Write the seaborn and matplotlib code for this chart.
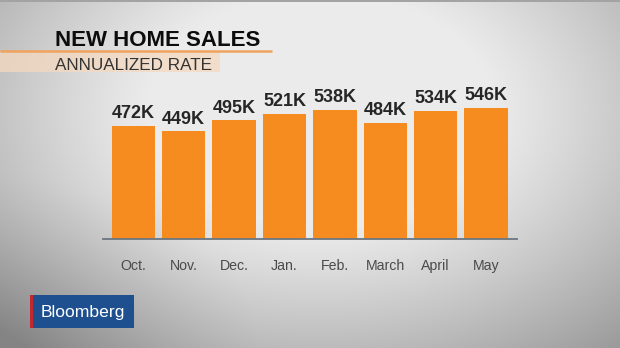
import numpy as np
import pandas as pd
import matplotlib
matplotlib.use("Agg")
import matplotlib.pyplot as plt
from matplotlib.patches import Rectangle
import seaborn as sns

# New home sales, annualized rate (thousands)
months = ["Oct.", "Nov.", "Dec.", "Jan.", "Feb.", "March", "April", "May"]
sales = [472, 449, 495, 521, 538, 484, 534, 546]

title = "NEW HOME SALES"
subtitle = "ANNUALIZED RATE"
brand = "Bloomberg"

plt.rcParams["font.family"] = ["Liberation Sans", "DejaVu Sans"]

W, H = 620, 348
fig = plt.figure(figsize=(W / 100, H / 100), dpi=100)

# --- studio-style backdrop: light centre fading to grey at the edges ---
bg = fig.add_axes([0, 0, 1, 1], zorder=0)
yy, xx = np.mgrid[0:H, 0:W]
r = np.sqrt(((xx - 320) / 340.0) ** 2 + ((yy - 110) / 230.0) ** 2)
shade = 0.925 - 0.38 * np.clip(r - 0.5, 0, None) ** 1.1
# darker lower-left corner
shade -= 0.10 * np.clip(1 - np.sqrt((xx / 260.0) ** 2 + ((H - yy) / 170.0) ** 2), 0, 1)
shade = np.clip(shade, 0.52, 0.95)
shade[0:2, :] = 0.64
bg.imshow(np.dstack([shade, shade, shade]), extent=(0, W, H, 0), aspect="auto")
bg.set_xlim(0, W)
bg.set_ylim(H, 0)
bg.axis("off")

# title block
bg.add_patch(Rectangle((0, 51.5), 220, 20.5, facecolor="#f4d9c0", alpha=0.75,
                       edgecolor="none"))
bg.plot([0, 272], [50.8, 50.8], color="#f0a35e", lw=1.8, solid_capstyle="butt")
bg.text(55, 46.5, title, fontsize=16, fontweight="bold", color="#0c0c0c",
        va="baseline", ha="left")
bg.text(55, 69.5, subtitle, fontsize=12.3, color="#333333",
        va="baseline", ha="left")

# brand tag
bg.add_patch(Rectangle((30, 295), 104, 33, facecolor="#1e4f8f", edgecolor="none"))
bg.add_patch(Rectangle((30, 295), 2.5, 33, facecolor="#c3282e", edgecolor="none"))
bg.text(83, 312, brand, fontsize=12.6, color="white", ha="center", va="center")

# --- bar chart ---
ax = fig.add_axes([103.3 / W, (H - 239) / H, (516.7 - 103.3) / W, 179 / H], zorder=1)
df = pd.DataFrame({"month": months, "sales": sales})
sns.barplot(data=df, x="month", y="sales", color="#f68b1f", saturation=1,
            width=0.863, ax=ax)
ax.set_facecolor("none")
ax.set_xlim(-0.595, 7.607)
ax.set_ylim(0, 745.8)
ax.set_xlabel("")
ax.set_ylabel("")
ax.set_yticks([])
for s in ["top", "right", "left"]:
    ax.spines[s].set_visible(False)
ax.spines["bottom"].set_color("#6b7682")
ax.spines["bottom"].set_linewidth(1.3)
ax.tick_params(axis="x", length=0, pad=14.5, labelsize=10.2, labelcolor="#4a4a4a")

for cont in ax.containers:
    ax.bar_label(cont, labels=[f"{v:.0f}K" for v in sales], padding=2.6,
                 fontsize=13, fontweight="bold", color="#262626", clip_on=False)

fig.savefig("out.png", dpi=100)
